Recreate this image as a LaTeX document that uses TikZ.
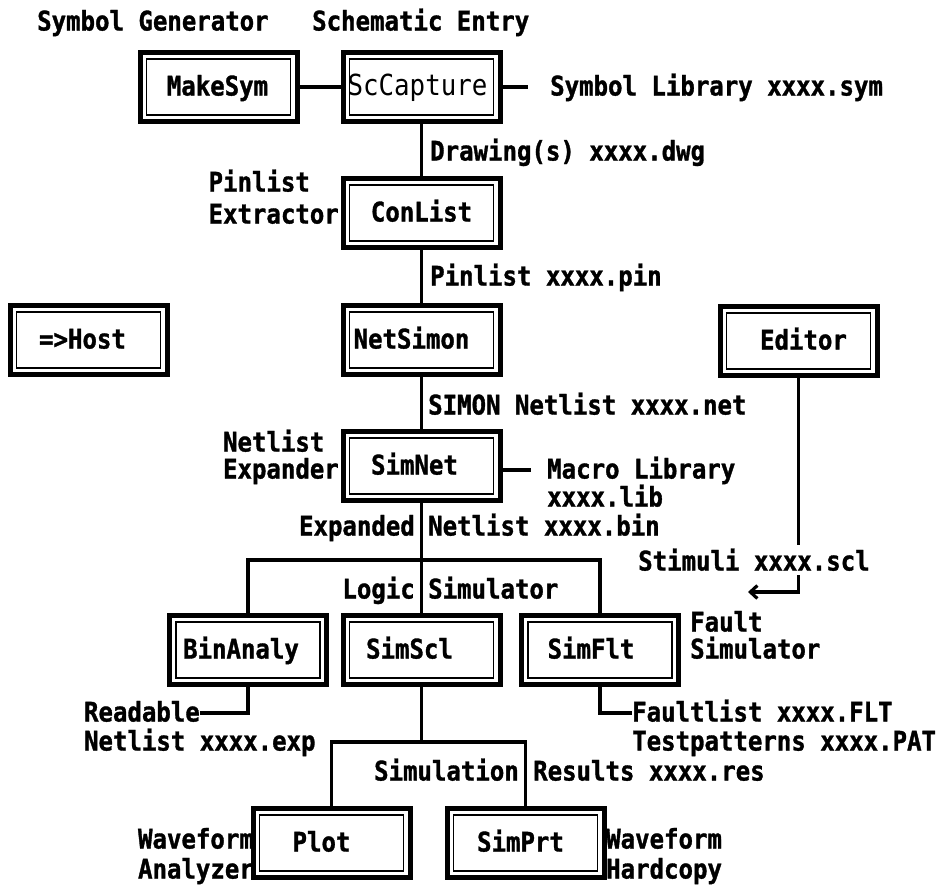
\documentclass[tikz,border=0pt]{standalone}
\usepackage{fontspec}
\newfontfamily\monolbl{DejaVu Sans Mono}[FakeStretch=0.89]
\newfontfamily\monoheavy{DejaVu Sans Mono Bold}[FakeStretch=0.89,FakeBold=1.2]
\newcommand\labfont{\monoheavy\fontsize{27}{30}\selectfont}
\usetikzlibrary{arrows.meta}
\begin{document}
\begin{tikzpicture}[x=1pt,y=-1pt,
  lbl/.style={inner sep=0pt, font=\labfont, text height=17pt, text depth=0pt},
  box/.style={draw, line width=5pt, minimum width=157pt, minimum height=69pt, inner sep=0pt,
              font=\labfont, text height=17pt, text depth=0pt, fill=white},
  conn/.style={line width=3.2pt},
  innerframe/.style={line width=1.6pt}
]
\useasboundingbox (0,0) rectangle (952,889);

% titles
\node[lbl,anchor=west] (t1) at (37,22) {Symbol Generator};
\node[lbl,anchor=west] (t2) at (312,22) {Schematic Entry};

% boxes
\node[box, font=\monolbl\fontsize{29}{30}\selectfont] (sccap) at (421.5,87) {ScCapture\kern8pt};
\node[box] (makesym) at (218.5,87) {MakeSym\kern2pt};
\node[box] (conlist) at (421.5,213) {ConList};
\node[box] (host) at (88.5,340) {=>Host\kern12pt};
\node[box] (netsimon) at (421.5,340) {NetSimon\kern20pt};
\node[box] (editor) at (798.5,341) {\kern10pt Editor};
\node[box] (simnet) at (421.5,466) {SimNet\kern14pt};
\node[box] (binanaly) at (248,650) {BinAnaly\kern14pt};
\node[box] (simscl) at (421.5,650) {SimScl\kern24pt};
\node[box] (simflt) at (600,650) {SimFlt\kern18pt};
\node[box] (plot) at (331.5,843) {Plot\kern20pt};
\node[box] (simprt) at (525.5,843) {SimPrt\kern10pt};

\foreach \n in {makesym,sccap,conlist,host,netsimon,editor,simnet,binanaly,simscl,simflt,plot,simprt}
  \draw[innerframe] ([xshift=9pt,yshift=-9pt]\n.north west) rectangle ([xshift=-9pt,yshift=9pt]\n.south east);

% labels
\node[lbl,anchor=west] (symlib) at (550,87) {Symbol Library xxxx.sym};
\coordinate (symlibend) at (528,87);
\node[lbl,anchor=west] (dwg) at (430,152) {Drawing(s) xxxx.dwg};
\node[lbl,anchor=east] (extr) at (339,215) {Extractor};
\node[lbl,anchor=west] (pinl) at (extr.west |- 0,183) {Pinlist};
\node[lbl,anchor=west] (pin) at (430,277) {Pinlist xxxx.pin};
\node[lbl,anchor=west] (net) at (428,406) {SIMON Netlist xxxx.net};
\node[lbl,anchor=east] (expa) at (339,470) {Expander};
\node[lbl,anchor=west] (netl) at (expa.west |- 0,443) {Netlist};
\node[lbl,anchor=west] (macro) at (547,470) {Macro Library};
\node[lbl,anchor=west] (maclib) at (547,498) {xxxx.lib};
\coordinate (macroend) at (531,470);
\node[lbl,anchor=east] (expd) at (415,527) {Expanded};
\node[lbl,anchor=west] (bin) at (428,527) {Netlist xxxx.bin};
\node[lbl,anchor=west] (stim) at (638,562) {Stimuli xxxx.scl};
\node[lbl,anchor=east] (logic) at (415,590) {Logic};
\node[lbl,anchor=west] (simu) at (428,590) {Simulator};
\node[lbl,anchor=west] (fault) at (690,623) {Fault};
\node[lbl,anchor=west] (fsim) at (690,650) {Simulator};
\node[lbl,anchor=east] (readable) at (200,713) {Readable};
\node[lbl,anchor=west] (exp) at (readable.west |- 0,742) {Netlist xxxx.exp};
\node[lbl,anchor=west] (flt) at (632,713) {Faultlist xxxx.FLT};
\node[lbl,anchor=west] (pat) at (flt.west |- 0,742) {Testpatterns xxxx.PAT};
\node[lbl,anchor=east] (simres1) at (519,772) {Simulation};
\node[lbl,anchor=west] (simres2) at (533,772) {Results xxxx.res};
\node[lbl,anchor=east] (wave1) at (254,840) {Waveform};
\node[lbl,anchor=west] (anal) at (wave1.west |- 0,870) {Analyzer};
\node[lbl,anchor=west] (wave2) at (606,840) {Waveform};
\node[lbl,anchor=west] (hard) at (606,870) {Hardcopy};

% connectors
\draw[conn] (makesym) -- (sccap);
\draw[conn] (sccap.east) -- (symlibend);
\draw[conn] (sccap) -- (conlist);
\draw[conn] (conlist) -- (netsimon);
\draw[conn] (netsimon) -- (simnet);
\draw[conn] (simnet.east |- macroend) -- (macroend);
\coordinate (bus1) at (421.5,560);
\draw[conn] (simnet) -- (simscl);
\draw[conn] (binanaly.north) |- (bus1) -| (simflt.north);
\coordinate (bus2) at (421.5,742);
\draw[conn] (simscl) -- (bus2);
\draw[conn] (plot.north) |- (bus2) -| (simprt.north);
\draw[conn] (binanaly.south) |- (readable.east);
\draw[conn] (simflt.south) |- (flt.west);
\coordinate (edend) at (798.5,545);
\coordinate (arrtop) at (798.5,575);
\coordinate (arrtip) at (748,592);
\draw[conn] (editor) -- (edend);
\draw[conn,-{Straight Barb[length=7pt,width=13pt]}] (arrtop) |- (arrtip);
\end{tikzpicture}
\end{document}
